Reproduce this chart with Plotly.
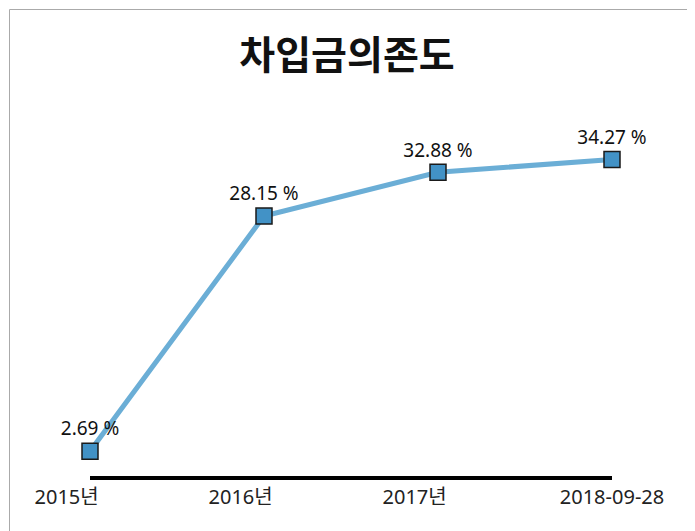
import plotly.graph_objects as go

categories = ["2015년", "2016년", "2017년", "2018-09-28"]
values = [2.69, 28.15, 32.88, 34.27]
label_pad = ["&nbsp;" * 9, "&nbsp;" * 9, "&nbsp;" * 9, ""]
x_pos = list(range(len(categories)))

OFF = 8  # page body margin
W, H = 695, 531
L = 90 - OFF
R = W - (612 - OFF)
T = 125 - OFF
B = H - (476 - OFF)
pw, ph = W - L - R, H - T - B

def px_to_paper_x(p):
    return (p - OFF - L) / pw

def px_to_paper_y(p):
    return (H - B - (p - OFF)) / ph

fig = go.Figure()
fig.add_trace(go.Scatter(
    x=x_pos, y=values, mode="lines+markers+text",
    text=[f"{v:.2f}&nbsp;%" for v in values],
    textposition="top center",
    textfont=dict(size=19, color="#111", family="Noto Sans, Noto Sans CJK KR"),
    line=dict(color="#6baed6", width=5),
    marker=dict(symbol="square", size=16, color="#4292c6",
                line=dict(color="#1a1a1a", width=1.5)),
    cliponaxis=False, showlegend=False,
))

fig.add_shape(type="rect", xref="paper", yref="paper",
              x0=px_to_paper_x(9.5), x1=px_to_paper_x(688.5),
              y0=px_to_paper_y(600), y1=px_to_paper_y(9.5),
              line=dict(color="#aaaaaa", width=1), fillcolor="rgba(0,0,0,0)", layer="below")

fig.update_layout(
    width=W, height=H,
    margin=dict(l=L, r=R, t=T, b=B),
    paper_bgcolor="white", plot_bgcolor="white",
    font=dict(family="Noto Sans, Noto Sans CJK KR", color="#111"),
    title=dict(text="<b>차입금의존도</b>", xanchor="center", xref="paper",
               x=(347 - OFF - L) / pw,
               y=1 - (55 - OFF) / H, yanchor="middle",
               font=dict(size=39, color="#111", family="Noto Sans CJK KR")),
    xaxis=dict(range=[0, 3], tickvals=x_pos,
               ticktext=[c + p for c, p in zip(categories, label_pad)],
               showgrid=False, zeroline=False, showline=True, linecolor="black",
               linewidth=4, ticks="", tickfont=dict(size=20, color="#222"),
               fixedrange=True),
    yaxis=dict(range=[0, 38], visible=False, fixedrange=True),
)

fig.write_html("out.html")
